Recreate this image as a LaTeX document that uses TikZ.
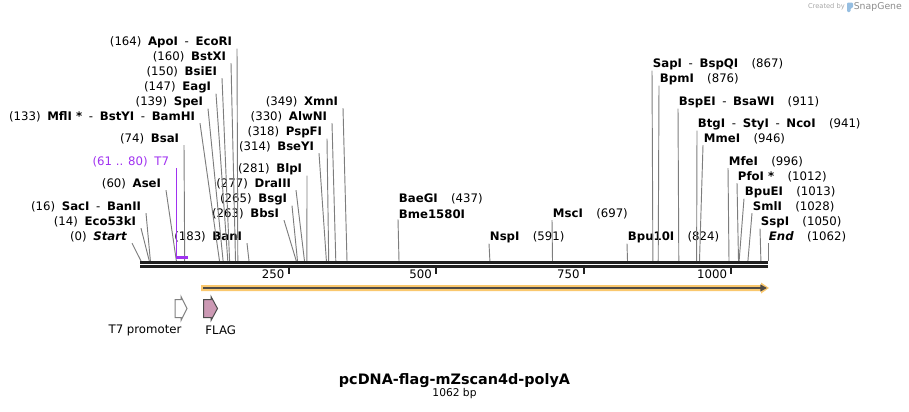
\documentclass[tikz,border=0pt]{standalone}
\usepackage{fontspec}
\setmainfont{DejaVu Sans}
\usetikzlibrary{arrows.meta}

\definecolor{cutgray}{RGB}{125,125,125}
\definecolor{seqblack}{RGB}{32,32,32}
\definecolor{t7purple}{RGB}{160,50,240}
\definecolor{featorange}{RGB}{250,200,110}
\definecolor{featdark}{RGB}{80,75,70}
\definecolor{flagpink}{RGB}{204,153,180}
\definecolor{logoblue}{RGB}{150,190,225}

\newcommand{\sep}{\hspace{5pt}}
\newcommand{\gap}{\hspace{10pt}}

\begin{document}
\begin{tikzpicture}[
    x=0.75pt, y=-0.75pt,
    lbl/.style={inner sep=0.5pt, font=\fontsize{8.8}{10}\selectfont},
    leftlbl/.style={lbl, anchor=east},
    rightlbl/.style={lbl, anchor=west},
    cut/.style={draw=cutgray, line width=0.7pt},
    backbone/.style={draw=seqblack, line width=2.3pt},
    scaletick/.style={draw=seqblack, line width=1.5pt},
    ticklbl/.style={lbl, anchor=east, xshift=-2pt},
    feat/.style={line width=0.75pt, line join=miter}
  ]
  \useasboundingbox (0,0) rectangle (909,411);

  \node (created) at (845,7) [anchor=east, inner sep=0, text=black!35, font=\fontsize{5}{6}\selectfont] {Created by};
  \fill[logoblue, rounded corners=0.8pt] (847,2.5) -- (853,2.5) -- (853,8) -- (850.5,8) -- (850.5,12) -- (847,12) -- cycle;
  \node (snapgene) at (853.5,7) [anchor=west, inner sep=0, text=black!45, font=\fontsize{7}{8}\selectfont] {SnapGene};

  % cut sites on the sequence
  \coordinate (s0) at (141.0,261);
  \coordinate (s14) at (149.3,261);
  \coordinate (s16) at (150.4,261);
  \coordinate (s60) at (176.4,261);
  \coordinate (s74) at (184.7,261);
  \coordinate (s133) at (219.5,261);
  \coordinate (s139) at (223.1,261);
  \coordinate (s147) at (227.8,261);
  \coordinate (s150) at (229.6,261);
  \coordinate (s160) at (235.5,261);
  \coordinate (s164) at (237.8,261);
  \coordinate (s183) at (249.0,261);
  \coordinate (s263) at (296.3,261);
  \coordinate (s265) at (297.5,261);
  \coordinate (s277) at (304.5,261);
  \coordinate (s281) at (306.9,261);
  \coordinate (s314) at (326.4,261);
  \coordinate (s318) at (328.7,261);
  \coordinate (s330) at (335.8,261);
  \coordinate (s349) at (347.0,261);
  \coordinate (s437) at (399.0,261);
  \coordinate (s591) at (489.9,261);
  \coordinate (s697) at (552.5,261);
  \coordinate (s824) at (627.5,261);
  \coordinate (s867) at (652.9,261);
  \coordinate (s876) at (658.2,261);
  \coordinate (s911) at (678.8,261);
  \coordinate (s941) at (696.6,261);
  \coordinate (s946) at (699.5,261);
  \coordinate (s996) at (729.0,261);
  \coordinate (s1012) at (738.5,261);
  \coordinate (s1013) at (739.1,261);
  \coordinate (s1028) at (747.9,261);
  \coordinate (s1050) at (760.9,261);
  \coordinate (s1062) at (768.0,261);

  % labels left of the sites
  \node (start) at (128,237) [leftlbl] {(0)\sep\textbf{\textit{Start}}};
  \node (eco53ki) at (137,222) [leftlbl] {(14)\sep\textbf{Eco53kI}};
  \node (saci) at (142,207) [leftlbl] {(16)\sep\textbf{SacI}\sep-\sep\textbf{BanII}};
  \node (asei) at (162,184) [leftlbl] {(60)\sep\textbf{AseI}};
  \node (t7lbl) at (170,162) [leftlbl, text=t7purple] {(61 .. 80)\sep T7};
  \node (bsai) at (180,139) [leftlbl] {(74)\sep\textbf{BsaI}};
  \node (mfli) at (196,117) [leftlbl] {(133)\sep\textbf{MflI *}\sep-\sep\textbf{BstYI}\sep-\sep\textbf{BamHI}};
  \node (spei) at (204,102) [leftlbl] {(139)\sep\textbf{SpeI}};
  \node (eagi) at (212,87) [leftlbl] {(147)\sep\textbf{EagI}};
  \node (bsiei) at (218,72) [leftlbl] {(150)\sep\textbf{BsiEI}};
  \node (bstxi) at (227,57) [leftlbl] {(160)\sep\textbf{BstXI}};
  \node (apoi) at (233,42) [leftlbl] {(164)\sep\textbf{ApoI}\sep-\sep\textbf{EcoRI}};
  \node (bani) at (243,237) [leftlbl] {(183)\sep\textbf{BanI}};
  \node (bbsi) at (280,214) [leftlbl] {(263)\sep\textbf{BbsI}};
  \node (bsgi) at (288,199) [leftlbl] {(265)\sep\textbf{BsgI}};
  \node (draiii) at (292,184) [leftlbl] {(277)\sep\textbf{DraIII}};
  \node (blpi) at (303,169) [leftlbl] {(281)\sep\textbf{BlpI}};
  \node (bseyi) at (315,147) [leftlbl] {(314)\sep\textbf{BseYI}};
  \node (pspfi) at (323,132) [leftlbl] {(318)\sep\textbf{PspFI}};
  \node (alwni) at (328,117) [leftlbl] {(330)\sep\textbf{AlwNI}};
  \node (xmni) at (339,102) [leftlbl] {(349)\sep\textbf{XmnI}};

  % labels right of the sites
  \node (baegi) at (398,199) [rightlbl] {\textbf{BaeGI}\gap(437)};
  \node (bme) at (398,214) [rightlbl] {\textbf{Bme1580I}};
  \node (nspi) at (489,237) [rightlbl] {\textbf{NspI}\gap(591)};
  \node (msci) at (552,214) [rightlbl] {\textbf{MscI}\gap(697)};
  \node (bpu10i) at (627,237) [rightlbl] {\textbf{Bpu10I}\gap(824)};
  \node (sapi) at (652,64) [rightlbl] {\textbf{SapI}\sep-\sep\textbf{BspQI}\gap(867)};
  \node (bpmi) at (659,79) [rightlbl] {\textbf{BpmI}\gap(876)};
  \node (bspei) at (678,102) [rightlbl] {\textbf{BspEI}\sep-\sep\textbf{BsaWI}\gap(911)};
  \node (btgi) at (697,124) [rightlbl] {\textbf{BtgI}\sep-\sep\textbf{StyI}\sep-\sep\textbf{NcoI}\gap(941)};
  \node (mmei) at (703,139) [rightlbl] {\textbf{MmeI}\gap(946)};
  \node (mfei) at (728,162) [rightlbl] {\textbf{MfeI}\gap(996)};
  \node (pfoi) at (737,177) [rightlbl] {\textbf{PfoI *}\gap(1012)};
  \node (bpuei) at (744,192) [rightlbl] {\textbf{BpuEI}\gap(1013)};
  \node (smli) at (752,207) [rightlbl] {\textbf{SmlI}\gap(1028)};
  \node (sspi) at (760,222) [rightlbl] {\textbf{SspI}\gap(1050)};
  \node (endlbl) at (768,237) [rightlbl] {\textbf{\textit{End}}\gap(1062)};

  \draw[cut] ([xshift=3pt]start.south east) -- (s0);
  \draw[cut] ([xshift=3pt]eco53ki.south east) -- (s14);
  \draw[cut] ([xshift=3pt]saci.south east) -- (s16);
  \draw[cut] ([xshift=3pt]asei.south east) -- (s60);
  \draw[cut] ([xshift=3pt]bsai.south east) -- (s74);
  \draw[cut] ([xshift=3pt]mfli.south east) -- (s133);
  \draw[cut] ([xshift=3pt]spei.south east) -- (s139);
  \draw[cut] ([xshift=3pt]eagi.south east) -- (s147);
  \draw[cut] ([xshift=3pt]bsiei.south east) -- (s150);
  \draw[cut] ([xshift=3pt]bstxi.south east) -- (s160);
  \draw[cut] ([xshift=3pt]apoi.south east) -- (s164);
  \draw[cut] ([xshift=3pt]bani.south east) -- (s183);
  \draw[cut] ([xshift=3pt]bbsi.south east) -- (s263);
  \draw[cut] ([xshift=3pt]bsgi.south east) -- (s265);
  \draw[cut] ([xshift=3pt]draiii.south east) -- (s277);
  \draw[cut] ([xshift=3pt]blpi.south east) -- (s281);
  \draw[cut] ([xshift=3pt]bseyi.south east) -- (s314);
  \draw[cut] ([xshift=3pt]pspfi.south east) -- (s318);
  \draw[cut] ([xshift=3pt]alwni.south east) -- (s330);
  \draw[cut] ([xshift=3pt]xmni.south east) -- (s349);
  \draw[cut] (bme.south west) -- (s437);
  \draw[cut] (nspi.south west) -- (s591);
  \draw[cut] (msci.south west) -- (s697);
  \draw[cut] (bpu10i.south west) -- (s824);
  \draw[cut] (sapi.south west) -- (s867);
  \draw[cut] (bpmi.south west) -- (s876);
  \draw[cut] (bspei.south west) -- (s911);
  \draw[cut] (btgi.south west) -- (s941);
  \draw[cut] (mmei.south west) -- (s946);
  \draw[cut] (mfei.south west) -- (s996);
  \draw[cut] (pfoi.south west) -- (s1012);
  \draw[cut] (bpuei.south west) -- (s1013);
  \draw[cut] (smli.south west) -- (s1028);
  \draw[cut] (sspi.south west) -- (s1050);
  \draw[cut] (endlbl.south west) -- (s1062);

  % T7 primer mark
  \coordinate (t7a) at (176.4,257.5);
  \coordinate (t7b) at (187.6,257.5);
  \draw[t7purple, line width=0.9pt] (t7lbl.south east -| t7a) -- (t7a);
  \draw[t7purple, line width=1.6pt] (t7a) -- (t7b);

  % sequence and ruler
  \draw[backbone] (140,262.5) -- (768,262.5);
  \draw[backbone] (140,266.5) -- (768,266.5);
  \draw[scaletick] (288.6,267.5) -- (288.6,274) node[ticklbl] {250};
  \draw[scaletick] (436.2,267.5) -- (436.2,274) node[ticklbl] {500};
  \draw[scaletick] (583.8,267.5) -- (583.8,274) node[ticklbl] {750};
  \draw[scaletick] (731.4,267.5) -- (731.4,274) node[ticklbl] {1000};

  % features
  \fill[featorange] (201,285) -- (761,285) -- (761,282.5) -- (769,288) -- (761,293.5) -- (761,291) -- (201,291) -- cycle;
  \draw[featdark, line width=1.4pt, -{Triangle[length=5pt,width=5pt]}] (203,288) -- (767,288);

  \draw[feat, draw=black!50, fill=white] (175,299.5) -- (181,299.5) -- (181,296.5) -- (187,308.5) -- (181,320.5) -- (181,317.5) -- (175,317.5) -- cycle;
  \draw[feat, draw=black!70, fill=flagpink] (203.5,299.5) -- (211,299.5) -- (211,296.5) -- (217.5,308.5) -- (211,320.5) -- (211,317.5) -- (203.5,317.5) -- cycle;
  \node (t7prom) at (145,330) [lbl] {T7 promoter};
  \node (flag) at (220.7,330) [lbl] {FLAG};

  \node (title) at (454.5,381) [inner sep=0, font=\fontsize{10.8}{12}\selectfont\bfseries] {pcDNA-flag-mZscan4d-polyA};
  \node (length) at (454.5,394) [inner sep=0, font=\fontsize{8}{9}\selectfont] {1062 bp};
\end{tikzpicture}
\end{document}
